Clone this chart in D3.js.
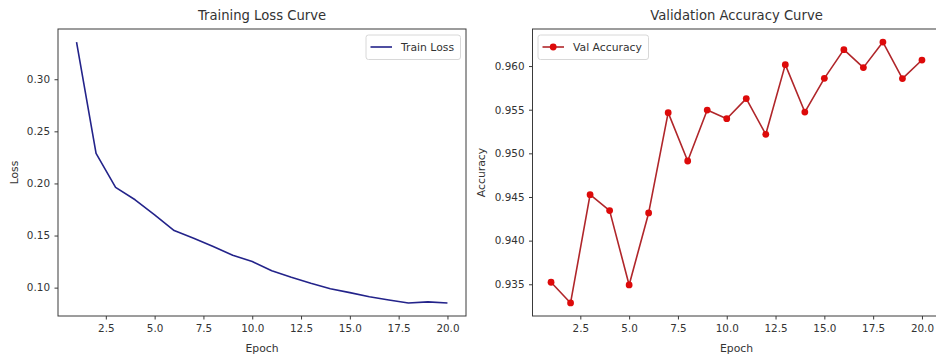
<!DOCTYPE html>
<html>
<head>
<meta charset="utf-8">
<script src="https://cdn.jsdelivr.net/npm/d3@7"></script>
<style>
  html, body { margin: 0; padding: 0; background: #fff; }
  svg { display: block; }
  text { font-family: "DejaVu Sans", sans-serif; fill: #333; }
</style>
</head>
<body>
<svg id="chart" width="936" height="361"></svg>
<script>
// ---- data ----
const epochs = [1,2,3,4,5,6,7,8,9,10,11,12,13,14,15,16,17,18,19,20];
const trainLoss = [0.3357,0.2289,0.1962,0.1843,0.1699,0.1548,0.1475,0.1394,0.1311,0.1250,
                   0.1163,0.1100,0.1042,0.0990,0.0952,0.0913,0.0882,0.0853,0.0863,0.0853];
const valAccuracy = [0.93523,0.93286,0.94527,0.94344,0.93492,0.94317,0.95466,0.94912,0.95496,0.95397,
                     0.95627,0.95218,0.96016,0.95473,0.95859,0.96188,0.95982,0.96275,0.95856,0.96069];
const xTicks = [2.5,5.0,7.5,10.0,12.5,15.0,17.5,20.0];
const lossTicks = [0.10,0.15,0.20,0.25,0.30];
const accTicks = [0.935,0.940,0.945,0.950,0.955,0.960];
const titles = ["Training Loss Curve", "Validation Accuracy Curve"];
const yLabels = ["Loss", "Accuracy"];
const xLabel = "Epoch";
const legendLabels = ["Train Loss", "Val Accuracy"];

const svg = d3.select("#chart");

function padded(ext) {
  const r = ext[1] - ext[0];
  return [ext[0] - 0.05 * r, ext[1] + 0.05 * r];
}

function panel(opts) {
  const { left, right, top, bottom, values, yTicks, yFmt, title, yLabel, legend, color, markers, lineColor, legendX, legendW, yLabelX } = opts;
  const g = svg.append("g");
  const x = d3.scaleLinear().domain(padded(d3.extent(epochs))).range([left, right]);
  const y = d3.scaleLinear().domain(padded(d3.extent(values))).range([bottom, top]);

  // frame
  g.append("rect").attr("x", left).attr("y", top).attr("width", right - left).attr("height", bottom - top)
    .attr("fill", "none").attr("stroke", "#3a3a3a").attr("stroke-width", 1);

  // axes
  const xa = g.append("g").attr("transform", `translate(0,${bottom})`)
    .call(d3.axisBottom(x).tickValues(xTicks).tickFormat(d3.format(".1f")).tickSize(3.5).tickPadding(5).tickSizeOuter(0));
  const ya = g.append("g").attr("transform", `translate(${left},0)`)
    .call(d3.axisLeft(y).tickValues(yTicks).tickFormat(d3.format(yFmt)).tickSize(3.5).tickPadding(4.5).tickSizeOuter(0));
  [xa, ya].forEach(a => {
    a.select(".domain").remove();
    a.selectAll("line").attr("stroke", "#3a3a3a");
    a.selectAll("text").attr("font-size", "10.4px").attr("fill", "#333").attr("font-family", "DejaVu Sans, sans-serif");
  });

  // line
  const line = d3.line().x((d, i) => x(epochs[i])).y(d => y(d));
  g.append("path").datum(values).attr("d", line).attr("fill", "none")
    .attr("stroke", lineColor).attr("stroke-width", 1.6).attr("stroke-linejoin", "round");
  if (markers) {
    g.selectAll("circle.pt").data(values).enter().append("circle").attr("class", "pt")
      .attr("cx", (d, i) => x(epochs[i])).attr("cy", d => y(d)).attr("r", 3.4).attr("fill", color);
  }

  // title
  g.append("text").attr("x", (left + right) / 2).attr("y", 20).attr("text-anchor", "middle")
    .attr("font-size", "13.2px").text(title);
  // x label
  g.append("text").attr("x", (left + right) / 2).attr("y", 352).attr("text-anchor", "middle")
    .attr("font-size", "10.8px").text(xLabel);
  // y label
  g.append("text").attr("transform", `translate(${yLabelX},${(top + bottom) / 2}) rotate(-90)`)
    .attr("text-anchor", "middle").attr("font-size", "10.8px").text(yLabel);

  // legend
  const lg = g.append("g");
  lg.append("rect").attr("x", legendX).attr("y", 35).attr("width", legendW).attr("height", 24.5)
    .attr("rx", 2.5).attr("fill", "#fff").attr("fill-opacity", 0.8).attr("stroke", "#d8d8d8");
  lg.append("line").attr("x1", legendX + 4.5).attr("x2", legendX + 26).attr("y1", 47).attr("y2", 47)
    .attr("stroke", lineColor).attr("stroke-width", 1.6);
  if (markers) {
    lg.append("circle").attr("cx", legendX + 15.2).attr("cy", 47).attr("r", 3.4).attr("fill", color);
  }
  lg.append("text").attr("x", legendX + 35).attr("y", 51).attr("font-size", "10.8px").text(legend);
}

panel({ left: 58, right: 466, top: 29, bottom: 316, values: trainLoss, yTicks: lossTicks, yFmt: ".2f",
  title: titles[0], yLabel: yLabels[0], legend: legendLabels[0], color: "#23238a", lineColor: "#23238a",
  markers: false, legendX: 366, legendW: 94.5, yLabelX: 18 });
panel({ left: 532.5, right: 940.5, top: 29, bottom: 316, values: valAccuracy, yTicks: accTicks, yFmt: ".3f",
  title: titles[1], yLabel: yLabels[1], legend: legendLabels[1], color: "#dd0a0a", lineColor: "#b0262a",
  markers: true, legendX: 538, legendW: 110.5, yLabelX: 485 });
</script>
</body>
</html>
